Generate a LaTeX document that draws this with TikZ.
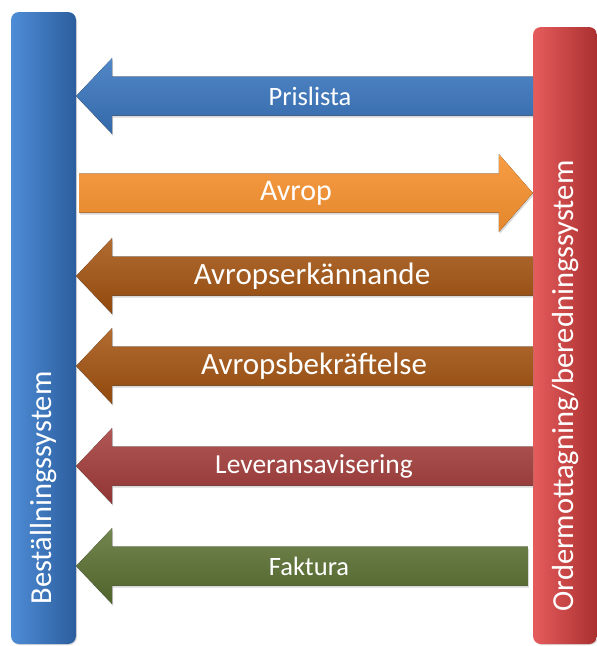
\documentclass[tikz,border=0pt]{standalone}
\usepackage{fontspec}
\setmainfont{Carlito}
\usetikzlibrary{calc,shadows}
\definecolor{barblue}{RGB}{59,120,196}
\definecolor{barbluelight}{RGB}{78,140,214}
\definecolor{barbluedark}{RGB}{44,94,158}
\definecolor{barred}{RGB}{214,64,64}
\definecolor{barredlight}{RGB}{230,92,92}
\definecolor{barreddark}{RGB}{170,48,48}
\definecolor{myblue}{RGB}{58,118,192}
\definecolor{myorange}{RGB}{247,146,48}
\definecolor{mybrown}{RGB}{164,82,14}
\definecolor{myred}{RGB}{163,59,57}
\definecolor{mygreen}{RGB}{90,112,48}

% block arrow pointing left, from the right bar to the left bar
\newcommand{\leftblock}[3]{%
  \fill[#1] (bestall.east |- 0,#2) -- ++(36,-38) -- ++(0,18.5)
    -- (#3 |- 0,#2-19.5) -- (#3 |- 0,#2+19.5)
    -- ($(bestall.east |- 0,#2+19.5)+(36,0)$) -- ++(0,18.5) -- cycle;}

\begin{document}
\begin{tikzpicture}[x=1pt,y=-1pt,
  bar/.style={rounded corners=8pt,inner sep=0pt,drop shadow={opacity=0.3,shadow xshift=1pt,shadow yshift=-1pt}},
  lbar/.style={bar,left color=barbluelight,middle color=barblue,right color=barbluedark},
  rbar/.style={bar,left color=barredlight,middle color=barred,right color=barreddark},
  blk/.style={drop shadow={opacity=0.3,shadow xshift=1pt,shadow yshift=-2pt}},
  bluearr/.style={blk,top color=myblue!88!white,middle color=myblue,bottom color=myblue!88!black},
  orangearr/.style={blk,top color=myorange!90!white,middle color=myorange,bottom color=myorange!92!black},
  brownarr/.style={blk,top color=mybrown!85!white,middle color=mybrown,bottom color=mybrown!88!black},
  redarr/.style={blk,top color=myred!85!white,middle color=myred,bottom color=myred!88!black},
  greenarr/.style={blk,top color=mygreen!85!white,middle color=mygreen,bottom color=mygreen!88!black},
  lbl/.style={text=white,inner sep=0pt},
  systext/.style={lbl,rotate=90,font=\fontsize{30.5}{34}\selectfont}]

  \useasboundingbox (0,0) rectangle (597,646);

  % the two systems
  \node[lbar,minimum width=65pt,minimum height=632pt] (bestall) at (43.5,328) {};
  \node[rbar,minimum width=64pt,minimum height=617pt] (order) at (565,335.5) {};
  \node[systext] (bestalltext) at (44,488) {Beställningssystem};
  \node[systext] (ordertext) at (566,386) {Ordermottagning/beredningssystem};

  % messages between them
  \leftblock{bluearr}{96}{order.west}
  \fill[orangearr] (order.west |- 0,193) -- ++(-34,-39) -- ++(0,19.5)
    -- ($(bestall.east |- 0,173.5)+(3,0)$) -- ($(bestall.east |- 0,212.5)+(3,0)$)
    -- ($(order.west |- 0,212.5)+(-34,0)$) -- ++(0,19.5) -- cycle;
  \leftblock{brownarr}{276}{order.west}
  \leftblock{brownarr}{366}{order.west}
  \leftblock{redarr}{466}{order.west}
  \leftblock{greenarr}{566}{[xshift=-5pt]order.west}

  \node[lbl,font=\fontsize{26.5}{30}\selectfont] (pris) at (310,96) {Prislista};
  \node[lbl,font=\fontsize{30}{34}\selectfont] (avrop) at (296,193) {Avrop};
  \node[lbl,font=\fontsize{31}{35}\selectfont] (erk) at (312,276) {Avropserkännande};
  \node[lbl,font=\fontsize{31}{35}\selectfont] (bekr) at (314,366) {Avropsbekräftelse};
  \node[lbl,font=\fontsize{27.5}{31}\selectfont] (lev) at (314,466) {Leveransavisering};
  \node[lbl,font=\fontsize{26.5}{30}\selectfont] (fakt) at (309,566) {Faktura};
\end{tikzpicture}
\end{document}
